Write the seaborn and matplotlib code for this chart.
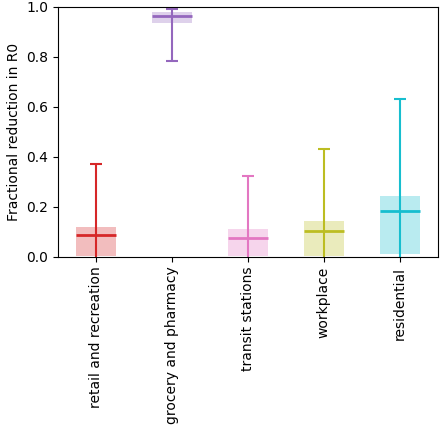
import matplotlib
matplotlib.use("Agg")
import matplotlib.pyplot as plt
import seaborn as sns
import numpy as np

categories = ["retail and recreation", "grocery and pharmacy", "transit stations", "workplace", "residential"]
median = [0.088, 0.965, 0.077, 0.105, 0.185]
box_low = [0.005, 0.937, 0.005, 0.005, 0.012]
box_high = [0.120, 0.981, 0.110, 0.144, 0.242]
whisk_low = [-0.05, 0.784, -0.05, -0.05, -0.03]
whisk_high = [0.373, 0.992, 0.325, 0.433, 0.631]

colors = sns.color_palette(["tab:red", "tab:purple", "tab:pink", "tab:olive", "tab:cyan"])

fig = plt.figure(figsize=(4.4, 4.37), dpi=100)
ax = fig.add_axes([0.132, 0.412, 0.863, 0.572])

x = np.arange(len(categories))
w = 0.53
for i in range(len(categories)):
    c = colors[i]
    ax.bar(x[i], box_high[i] - box_low[i], bottom=box_low[i], width=w, color=c, alpha=0.3, linewidth=0)
    ax.errorbar(x[i], median[i], yerr=[[median[i] - whisk_low[i]], [whisk_high[i] - median[i]]],
                color=c, capsize=4, elinewidth=1.5, capthick=1.5, fmt="none")
    ax.hlines(median[i], x[i] - w / 2, x[i] + w / 2, color=c, linewidth=2)

ax.set_xlim(-0.5, len(categories) - 0.5)
ax.set_ylim(0, 1)
ax.set_xticks(x)
ax.set_xticklabels(categories, rotation=90)
ax.set_ylabel("Fractional reduction in R0")
fig.savefig("out.png", dpi=100)
